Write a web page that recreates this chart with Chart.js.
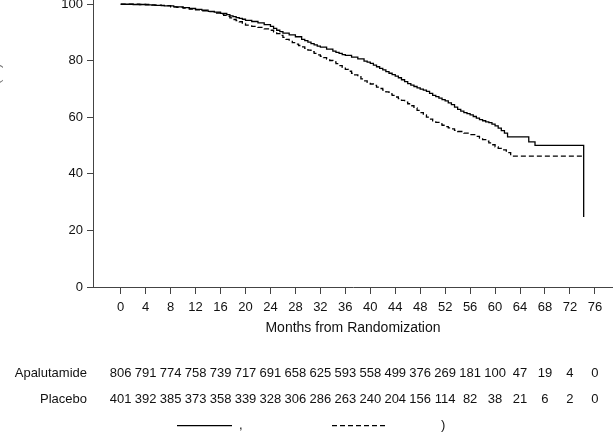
<!DOCTYPE html>
<html>
<head>
<meta charset="utf-8">
<script src="https://cdn.jsdelivr.net/npm/chart.js@4"></script>
<style>
  html, body { margin: 0; padding: 0; background: #fff; overflow: hidden; }
  #wrap { position: absolute; left: 0; top: -20px; width: 613px; height: 459px; }
</style>
</head>
<body>
<div id="wrap"><canvas id="km"></canvas></div>
<script>
const kmCanvas = document.getElementById("km");
const kmCtx    = kmCanvas.getContext('2d');

const black = "#000";
const axisGrey = "#444";
const fontFamily = "'Liberation Sans', Arial, sans-serif";

// x ticks (months)
const xTicks = [0, 4, 8, 12, 16, 20, 24, 28, 32, 36, 40, 44, 48, 52, 56, 60, 64, 68, 72, 76];
const yTicks = [0, 20, 40, 60, 80, 100];

// KM curve, apalutamide (solid)
const apaMonths = [0, 2, 4, 5.5, 7, 8.5, 10, 11, 12, 13, 14, 15, 16, 17, 17.5, 18, 18.5, 19, 19.5, 20,
  21, 22, 23, 24, 24.5, 25, 25.5, 26, 27, 28, 29, 29.5, 30, 30.5, 31, 31.5, 32, 33, 34, 34.5,
  35, 35.5, 36, 37, 38, 39, 39.5, 40, 40.5, 41, 41.5, 42, 42.5, 43, 43.5, 44, 44.5, 45, 45.5, 46,
  46.5, 47, 47.5, 48, 48.5, 49, 49.5, 50, 50.5, 51, 51.5, 52, 52.5, 53, 53.5, 54, 54.5, 55, 55.5, 56,
  56.5, 57, 57.5, 58, 58.5, 59, 59.5, 60, 60.5, 61, 61.5, 62, 65.4, 66.4, 74.2, 74.2];
const apaSurv = [100, 99.9, 99.8, 99.6, 99.4, 99.1, 98.8, 98.5, 98.2, 97.9, 97.5, 97.2, 96.8, 96.3, 95.9, 95.6, 95.3, 95.0, 94.7, 94.3,
  93.9, 93.4, 92.8, 92.2, 91.5, 90.8, 90.3, 89.8, 89.2, 88.5, 87.6, 87.1, 86.6, 86.1, 85.6, 85.2, 84.8, 84.1, 83.4, 83.0,
  82.6, 82.2, 81.9, 81.3, 80.7, 79.9, 79.5, 79.1, 78.5, 77.9, 77.3, 76.8, 76.2, 75.6, 75.1, 74.6, 74.0, 73.3, 72.6, 71.9,
  71.4, 70.9, 70.4, 70.0, 69.6, 69.2, 68.5, 67.8, 67.3, 66.8, 66.3, 65.8, 65.1, 64.5, 63.6, 62.8, 62.2, 61.7, 61.3, 60.9,
  60.3, 59.7, 59.2, 58.8, 58.4, 58.1, 57.6, 57.0, 56.2, 55.3, 54.4, 53.1, 51.3, 50.1, 50.1, 24.8];

// KM curve, placebo (dashed)
const plcMonths = [0, 3, 5, 6.5, 8, 9, 10, 11, 12, 13, 14, 15, 16, 16.5, 17, 17.5, 18, 18.5, 19, 19.5,
  20, 21, 22, 23, 24, 24.5, 25, 25.5, 26, 26.5, 27, 27.5, 28, 28.5, 29, 29.5, 30, 30.5, 31, 31.5,
  32, 32.5, 33, 33.5, 34, 34.5, 35, 35.5, 36, 36.5, 37, 37.5, 38, 38.5, 39, 39.5, 40, 40.5, 41, 41.5,
  42, 42.5, 43, 43.5, 44, 44.5, 45, 45.5, 46, 46.5, 47, 47.5, 48, 48.5, 49, 49.5, 50, 50.5, 51, 51.5,
  52, 52.5, 53, 53.5, 54, 55, 56, 57, 57.5, 58, 58.5, 59, 59.5, 60, 60.5, 61, 61.8, 62.5, 74.2];
const plcSurv = [100, 99.9, 99.7, 99.5, 99.1, 98.9, 98.6, 98.3, 98.0, 97.7, 97.4, 96.9, 96.4, 96.1, 95.7, 95.2, 94.6, 94.2, 93.8, 93.2,
  92.6, 92.2, 91.8, 91.3, 90.8, 90.2, 89.6, 89.0, 88.3, 87.6, 86.9, 86.4, 85.9, 85.4, 84.9, 84.4, 83.8, 83.2, 82.6, 82.1,
  81.6, 81.1, 80.6, 80.1, 79.6, 79.0, 78.3, 77.7, 77.0, 76.3, 75.6, 75.0, 74.4, 73.6, 72.9, 72.4, 71.8, 71.3, 70.7, 70.2,
  69.6, 69.0, 68.3, 67.8, 67.2, 66.6, 66.0, 65.4, 64.8, 64.1, 63.3, 62.5, 61.7, 60.9, 60.1, 59.4, 58.8, 58.2, 57.7, 57.2,
  56.7, 56.3, 55.9, 55.4, 55.0, 54.4, 53.9, 53.3, 52.7, 52.1, 51.6, 51.0, 50.3, 49.6, 49.0, 48.5, 47.5, 46.3, 46.3];

// number at risk
const riskLabels = ["Apalutamide", "Placebo"];
const apaAtRisk = [806, 791, 774, 758, 739, 717, 691, 658, 625, 593, 558, 499, 376, 269, 181, 100, 47, 19, 4, 0];
const plcAtRisk = [401, 392, 385, 373, 358, 339, 328, 306, 286, 263, 240, 204, 156, 114, 82, 38, 21, 6, 2, 0];

const toPoints = (xs, ys) => xs.map((x, i) => ({ x: x, y: ys[i] }));

// risk table + legend remnants + clipped y title
const extrasPlugin = {
  id: 'extras',
  afterDraw(chart) {
    const ctx = chart.ctx;
    const xs = chart.scales.x;
    ctx.save();
    ctx.font = "13px " + fontFamily;
    ctx.fillStyle = "#111";
    ctx.textBaseline = 'middle';

    // risk table
    const rows = [apaAtRisk, plcAtRisk];
    const rowY = [393.5, 419];
    rows.forEach((row, r) => {
      ctx.textAlign = 'right';
      ctx.fillText(riskLabels[r], 87, rowY[r]);
      ctx.textAlign = 'center';
      row.forEach((n, i) => ctx.fillText(String(n), xs.getPixelForValue(xTicks[i]), rowY[r]));
    });

    // legend (text mostly lost in the source)
    const ly = 445.7;
    ctx.strokeStyle = black;
    ctx.lineWidth = 1.3;
    ctx.beginPath(); ctx.moveTo(177, ly); ctx.lineTo(232, ly); ctx.stroke();
    ctx.setLineDash([5, 3]);
    ctx.beginPath(); ctx.moveTo(332, ly); ctx.lineTo(387, ly); ctx.stroke();
    ctx.setLineDash([]);
    ctx.textAlign = 'left';
    ctx.fillText(",", 239, ly);
    ctx.fillText(")", 441, ly);

    // y title, cut off at the left edge
    ctx.translate(0.2, 165);
    ctx.rotate(-Math.PI / 2);
    ctx.textAlign = 'center';
    ctx.textBaseline = 'alphabetic';
    ctx.fillStyle = "#777";
    ctx.fillText("Metastasis-free Survival (%)", 0, 0);
    ctx.restore();
  }
};

const kmData = {
  datasets: [
    {
      label: "Apalutamide",
      data: toPoints(apaMonths, apaSurv),
      borderColor: black,
      borderWidth: 1.3,
      stepped: true,
      pointRadius: 0
    },
    {
      label: "Placebo",
      data: toPoints(plcMonths, plcSurv),
      borderColor: black,
      borderWidth: 1.3,
      borderDash: [5, 3],
      stepped: true,
      pointRadius: 0
    }
  ]
};

const kmConfig = {
  type: 'line',
  data: kmData,
  options: {
    responsive: true,
    maintainAspectRatio: false,
    animation: false,
    layout: { padding: { top: 20, right: 0, bottom: 102, left: 0 } },
    plugins: {
      legend: { display: false },
      tooltip: { enabled: false }
    },
    scales: {
      x: {
        type: 'linear',
        min: -4.44,
        max: 78.9,
        afterBuildTicks: (scale) => { scale.ticks = xTicks.map(v => ({ value: v })); },
        afterFit: (scale) => { scale.height = 50; },
        grid: { drawOnChartArea: false, drawTicks: true, tickLength: 7, color: axisGrey },
        border: { display: true, color: axisGrey, width: 1 },
        ticks: { padding: 6, color: "#111", font: { family: fontFamily, size: 13 }, maxRotation: 0, autoSkip: false },
        title: {
          display: true,
          text: "Months from Randomization",
          color: "#111",
          font: { family: fontFamily, size: 14 },
          padding: { top: 0, bottom: 0 }
        }
      },
      y: {
        min: 0,
        max: 101.5,
        afterBuildTicks: (scale) => { scale.ticks = yTicks.map(v => ({ value: v })); },
        afterFit: (scale) => { scale.width = 93; },
        grid: { drawOnChartArea: false, drawTicks: true, tickLength: 6, color: axisGrey },
        border: { display: true, color: axisGrey, width: 1 },
        ticks: { padding: 4, color: "#111", font: { family: fontFamily, size: 13 } }
      }
    }
  },
  plugins: [extrasPlugin]
};

const kmChart = new Chart(kmCtx, kmConfig);
</script>
</body>
</html>
